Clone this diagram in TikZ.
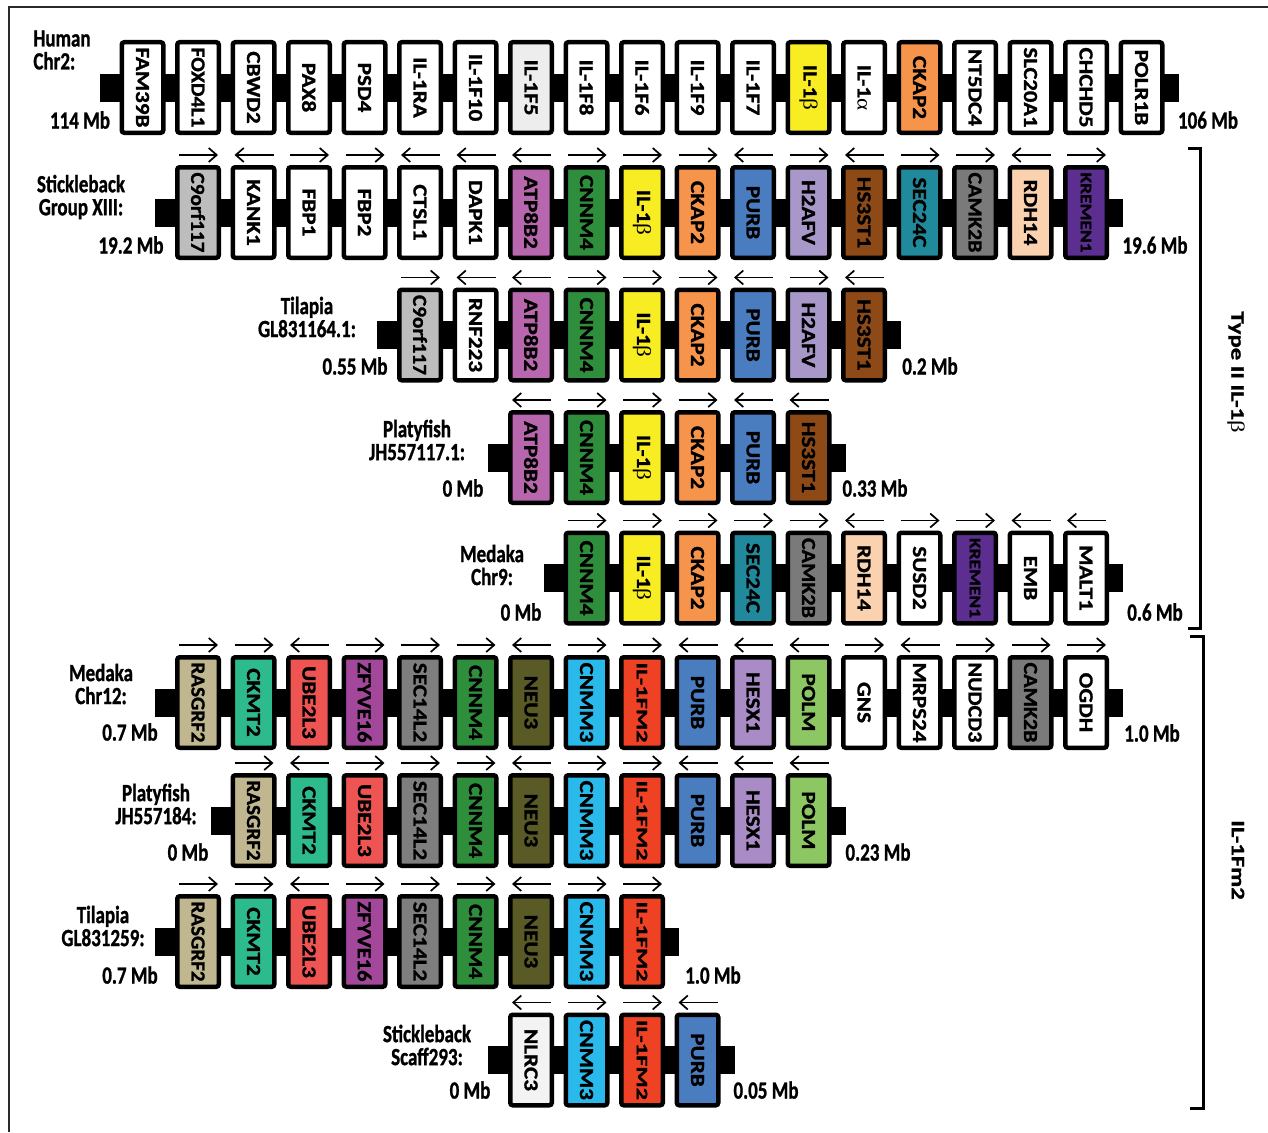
\documentclass[tikz,border=0pt]{standalone}
\usepackage{fontspec}
\usepackage{graphicx}
\setmainfont{Carlito}[BoldFont={* Bold}, BoldFeatures={FakeBold=1.2}]
\newfontfamily\grk{Liberation Serif}
\usetikzlibrary{arrows.meta,backgrounds}
\definecolor{cWhite}{HTML}{FFFFFF}
\definecolor{cLight}{HTML}{EDEDED}
\definecolor{cNlrc}{HTML}{F3F3F3}
\definecolor{cCgray}{HTML}{BDBDBD}
\definecolor{cAtp}{HTML}{B866AE}
\definecolor{cCnnm}{HTML}{2F8E3C}
\definecolor{cYel}{HTML}{F8EC22}
\definecolor{cOra}{HTML}{F7944B}
\definecolor{cPurb}{HTML}{4A7DC0}
\definecolor{cLav}{HTML}{A898C9}
\definecolor{cBrown}{HTML}{8E4A16}
\definecolor{cTeal}{HTML}{21899C}
\definecolor{cCamk}{HTML}{7A7A7A}
\definecolor{cPeach}{HTML}{FBD2B0}
\definecolor{cKrem}{HTML}{5B2E90}
\definecolor{cRas}{HTML}{C0B68F}
\definecolor{cCkmt}{HTML}{2DBB8E}
\definecolor{cUbe}{HTML}{EE5452}
\definecolor{cZfy}{HTML}{A2479A}
\definecolor{cSec}{HTML}{7E7E7E}
\definecolor{cNeu}{HTML}{595A26}
\definecolor{cCnmm}{HTML}{29B9EA}
\definecolor{cFm}{HTML}{EF4225}
\definecolor{cHesx}{HTML}{A98BC6}
\definecolor{cPolm}{HTML}{8DC763}
\definecolor{cFrame}{HTML}{2A2A2A}
\newsavebox\glbox
\newcommand\sx[1]{\scalebox{1}[1.3]{#1}}
\newcommand\glab[1]{\sbox\glbox{#1}%
  \ifdim\wd\glbox>69pt
    \rotatebox{-90}{\resizebox{80pt}{\height}{\usebox\glbox}}%
  \else
    \rotatebox{-90}{\scalebox{1.16}[1]{\usebox\glbox}}%
  \fi}
\newcommand\fitlab[1]{\sbox\glbox{#1}%
  \rotatebox{-90}{\resizebox{80pt}{\height}{\usebox\glbox}}}
\newcommand\gb{{\grk\mdseries β}}
\newcommand\ga{{\grk\mdseries α}}
\tikzset{
  genebox/.style={draw=black, line width=4.5pt, rounded corners=2.5pt,
    minimum width=41.5pt, minimum height=90.5pt, inner sep=0pt,
    font=\fontsize{20}{22}\selectfont\bfseries},
  smallg/.style={font=\fontsize{16}{18}\selectfont\bfseries},
  fwd/.style={-{Straight Barb[length=8pt,width=14pt]}},
  rev/.style={{Straight Barb[length=8pt,width=14pt]}-},
  dirarrow/.style={line width=1.7pt, black},
  lab/.style={align=center, inner sep=0pt, font=\fontsize{19}{23}\selectfont\bfseries},
  chrbar/.style={fill=black},
  brk/.style={line width=3pt, black},
}
% #1 row id, #2 col, #3 y, #4 fill, #5 label, #6 arrow style
\newcommand\gene[6]{%
  \node[genebox, fill=#4] (#1#2) at ({142.5+55.5*#2},#3) {\glab{#5}};
  \draw[dirarrow, #6] ([xshift=4pt,yshift=10pt]#1#2.north west) -- ([xshift=-3pt,yshift=10pt]#1#2.north east);
}
\newcommand\sgene[6]{%
  \node[genebox, smallg, fill=#4] (#1#2) at ({142.5+55.5*#2},#3) {\fitlab{#5}};
  \draw[dirarrow, #6] ([xshift=4pt,yshift=10pt]#1#2.north west) -- ([xshift=-3pt,yshift=10pt]#1#2.north east);
}
\newcommand\hgene[4]{%
  \node[genebox, fill=#3] (#1#2) at ({142.5+55.5*#2},87.5) {\glab{#4}};
}
\newcommand\chrom[2]{%
  \begin{scope}[on background layer]
    \fill[chrbar] ([xshift=-20pt,yshift=-14pt]#1.west) rectangle ([xshift=14pt,yshift=14pt]#2.east);
  \end{scope}
}
\begin{document}
\begin{tikzpicture}[x=1pt,y=-1pt]
\begin{scope}[on background layer]
\fill[white] (0,0) rectangle (1268,1132);
\end{scope}
\useasboundingbox (0,0) rectangle (1268,1132);
\draw[cFrame, line width=2pt] (9,1132) -- (9,7) -- (1268,7);

% ---- Row A: Human Chr2
\hgene{A}{0}{cWhite}{FAM39B}
\hgene{A}{1}{cWhite}{FOXD4L1}
\hgene{A}{2}{cWhite}{CBWD2}
\hgene{A}{3}{cWhite}{PAX8}
\hgene{A}{4}{cWhite}{PSD4}
\hgene{A}{5}{cWhite}{IL-1RA}
\hgene{A}{6}{cWhite}{IL-1F10}
\hgene{A}{7}{cLight}{IL-1F5}
\hgene{A}{8}{cWhite}{IL-1F8}
\hgene{A}{9}{cWhite}{IL-1F6}
\hgene{A}{10}{cWhite}{IL-1F9}
\hgene{A}{11}{cWhite}{IL-1F7}
\hgene{A}{12}{cYel}{IL-1\gb}
\hgene{A}{13}{cWhite}{IL-1\ga}
\hgene{A}{14}{cOra}{CKAP2}
\hgene{A}{15}{cWhite}{NT5DC4}
\hgene{A}{16}{cWhite}{SLC20A1}
\hgene{A}{17}{cWhite}{CHCHD5}
\hgene{A}{18}{cWhite}{POLR1B}
\chrom{A0}{A18}
\node[lab, align=left] (Alab) at (62,50) {\sx{Human}\\\sx{Chr2:}};
\node[lab] (Aleft) at (80,120) {\sx{114 Mb}};
\node[lab] (Aright) at (1208,120) {\sx{106 Mb}};

% ---- Row B: Stickleback Group XIII
\def\ry{212.5}
\gene{B}{1}{\ry}{cCgray}{C9orf117}{fwd}
\gene{B}{2}{\ry}{cWhite}{KANK1}{rev}
\gene{B}{3}{\ry}{cWhite}{FBP1}{fwd}
\gene{B}{4}{\ry}{cWhite}{FBP2}{fwd}
\gene{B}{5}{\ry}{cWhite}{CTSL1}{rev}
\gene{B}{6}{\ry}{cWhite}{DAPK1}{rev}
\gene{B}{7}{\ry}{cAtp}{ATP8B2}{rev}
\gene{B}{8}{\ry}{cCnnm}{CNNM4}{fwd}
\gene{B}{9}{\ry}{cYel}{IL-1\gb}{fwd}
\gene{B}{10}{\ry}{cOra}{CKAP2}{fwd}
\gene{B}{11}{\ry}{cPurb}{PURB}{rev}
\gene{B}{12}{\ry}{cLav}{H2AFV}{fwd}
\gene{B}{13}{\ry}{cBrown}{HS3ST1}{rev}
\gene{B}{14}{\ry}{cTeal}{SEC24C}{fwd}
\gene{B}{15}{\ry}{cCamk}{CAMK2B}{fwd}
\gene{B}{16}{\ry}{cPeach}{RDH14}{rev}
\sgene{B}{17}{\ry}{cKrem}{KREMEN1}{fwd}
\chrom{B1}{B17}
\node[lab] (Blab) at (81,197) {\sx{Stickleback}\\\sx{Group XIII:}};
\node[lab] (Bleft) at (131,245) {\sx{19.2 Mb}};
\node[lab] (Bright) at (1155,245) {\sx{19.6 Mb}};

% ---- Row C: Tilapia GL831164.1
\def\ry{335}
\gene{C}{5}{\ry}{cCgray}{C9orf117}{fwd}
\gene{C}{6}{\ry}{cWhite}{RNF223}{rev}
\gene{C}{7}{\ry}{cAtp}{ATP8B2}{rev}
\gene{C}{8}{\ry}{cCnnm}{CNNM4}{fwd}
\gene{C}{9}{\ry}{cYel}{IL-1\gb}{fwd}
\gene{C}{10}{\ry}{cOra}{CKAP2}{fwd}
\gene{C}{11}{\ry}{cPurb}{PURB}{rev}
\gene{C}{12}{\ry}{cLav}{H2AFV}{fwd}
\gene{C}{13}{\ry}{cBrown}{HS3ST1}{rev}
\chrom{C5}{C13}
\node[lab] (Clab) at (307,317) {\sx{Tilapia}\\\sx{GL831164.1:}};
\node[lab] (Cleft) at (355,366) {\sx{0.55 Mb}};
\node[lab] (Cright) at (930,366) {\sx{0.2 Mb}};

% ---- Row D: Platyfish JH557117.1
\def\ry{457.5}
\gene{D}{7}{\ry}{cAtp}{ATP8B2}{rev}
\gene{D}{8}{\ry}{cCnnm}{CNNM4}{fwd}
\gene{D}{9}{\ry}{cYel}{IL-1\gb}{fwd}
\gene{D}{10}{\ry}{cOra}{CKAP2}{fwd}
\gene{D}{11}{\ry}{cPurb}{PURB}{rev}
\gene{D}{12}{\ry}{cBrown}{HS3ST1}{rev}
\chrom{D7}{D12}
\node[lab] (Dlab) at (417,440) {\sx{Platyfish}\\\sx{JH557117.1:}};
\node[lab] (Dleft) at (463,488) {\sx{0 Mb}};
\node[lab] (Dright) at (875,488) {\sx{0.33 Mb}};

% ---- Row E: Medaka Chr9
\def\ry{578}
\gene{E}{8}{\ry}{cCnnm}{CNNM4}{fwd}
\gene{E}{9}{\ry}{cYel}{IL-1\gb}{fwd}
\gene{E}{10}{\ry}{cOra}{CKAP2}{fwd}
\gene{E}{11}{\ry}{cTeal}{SEC24C}{fwd}
\gene{E}{12}{\ry}{cCamk}{CAMK2B}{fwd}
\gene{E}{13}{\ry}{cPeach}{RDH14}{rev}
\gene{E}{14}{\ry}{cWhite}{SUSD2}{fwd}
\sgene{E}{15}{\ry}{cKrem}{KREMEN1}{fwd}
\gene{E}{16}{\ry}{cWhite}{EMB}{rev}
\gene{E}{17}{\ry}{cWhite}{MALT1}{rev}
\chrom{E8}{E17}
\node[lab] (Elab) at (492,565) {\sx{Medaka}\\\sx{Chr9:}};
\node[lab] (Eleft) at (521,612) {\sx{0 Mb}};
\node[lab] (Eright) at (1155,612) {\sx{0.6 Mb}};

% ---- Row F: Medaka Chr12
\def\ry{702.5}
\gene{F}{1}{\ry}{cRas}{RASGRF2}{fwd}
\gene{F}{2}{\ry}{cCkmt}{CKMT2}{fwd}
\gene{F}{3}{\ry}{cUbe}{UBE2L3}{rev}
\gene{F}{4}{\ry}{cZfy}{ZFYVE16}{fwd}
\gene{F}{5}{\ry}{cSec}{SEC14L2}{fwd}
\gene{F}{6}{\ry}{cCnnm}{CNNM4}{fwd}
\gene{F}{7}{\ry}{cNeu}{NEU3}{rev}
\gene{F}{8}{\ry}{cCnmm}{CNMM3}{fwd}
\sgene{F}{9}{\ry}{cFm}{IL-1FM2}{fwd}
\gene{F}{10}{\ry}{cPurb}{PURB}{rev}
\gene{F}{11}{\ry}{cHesx}{HESX1}{rev}
\gene{F}{12}{\ry}{cPolm}{POLM}{rev}
\gene{F}{13}{\ry}{cWhite}{GNS}{fwd}
\gene{F}{14}{\ry}{cWhite}{MRPS24}{rev}
\gene{F}{15}{\ry}{cWhite}{NUDCD3}{fwd}
\gene{F}{16}{\ry}{cCamk}{CAMK2B}{fwd}
\gene{F}{17}{\ry}{cWhite}{OGDH}{fwd}
\chrom{F1}{F17}
\node[lab] (Flab) at (101,684) {\sx{Medaka}\\\sx{Chr12:}};
\node[lab] (Fleft) at (130,732) {\sx{0.7 Mb}};
\node[lab] (Fright) at (1152,733) {\sx{1.0 Mb}};

% ---- Row G: Platyfish JH557184
\def\ry{820.5}
\gene{G}{2}{\ry}{cRas}{RASGRF2}{fwd}
\gene{G}{3}{\ry}{cCkmt}{CKMT2}{rev}
\gene{G}{4}{\ry}{cUbe}{UBE2L3}{fwd}
\gene{G}{5}{\ry}{cSec}{SEC14L2}{fwd}
\gene{G}{6}{\ry}{cCnnm}{CNNM4}{fwd}
\gene{G}{7}{\ry}{cNeu}{NEU3}{rev}
\gene{G}{8}{\ry}{cCnmm}{CNMM3}{fwd}
\sgene{G}{9}{\ry}{cFm}{IL-1FM2}{fwd}
\gene{G}{10}{\ry}{cPurb}{PURB}{rev}
\gene{G}{11}{\ry}{cHesx}{HESX1}{rev}
\gene{G}{12}{\ry}{cPolm}{POLM}{rev}
\chrom{G2}{G12}
\node[lab] (Glab) at (156,804) {\sx{Platyfish}\\\sx{JH557184:}};
\node[lab] (Gleft) at (188,852) {\sx{0 Mb}};
\node[lab] (Gright) at (878,852) {\sx{0.23 Mb}};

% ---- Row H: Tilapia GL831259
\def\ry{941.5}
\gene{H}{1}{\ry}{cRas}{RASGRF2}{fwd}
\gene{H}{2}{\ry}{cCkmt}{CKMT2}{fwd}
\gene{H}{3}{\ry}{cUbe}{UBE2L3}{rev}
\gene{H}{4}{\ry}{cZfy}{ZFYVE16}{fwd}
\gene{H}{5}{\ry}{cSec}{SEC14L2}{fwd}
\gene{H}{6}{\ry}{cCnnm}{CNNM4}{fwd}
\gene{H}{7}{\ry}{cNeu}{NEU3}{rev}
\gene{H}{8}{\ry}{cCnmm}{CNMM3}{fwd}
\sgene{H}{9}{\ry}{cFm}{IL-1FM2}{fwd}
\chrom{H1}{H9}
\node[lab] (Hlab) at (103,926) {\sx{Tilapia}\\\sx{GL831259:}};
\node[lab] (Hleft) at (130,975) {\sx{0.7 Mb}};
\node[lab] (Hright) at (713,975) {\sx{1.0 Mb}};

% ---- Row I: Stickleback Scaff293
\def\ry{1060}
\gene{I}{7}{\ry}{cNlrc}{NLRC3}{rev}
\gene{I}{8}{\ry}{cCnmm}{CNMM3}{fwd}
\sgene{I}{9}{\ry}{cFm}{IL-1FM2}{fwd}
\gene{I}{10}{\ry}{cPurb}{PURB}{rev}
\chrom{I7}{I10}
\node[lab] (Ilab) at (427,1045) {\sx{Stickleback}\\\sx{Scaff293:}};
\node[lab] (Ileft) at (470,1090) {\sx{0 Mb}};
\node[lab] (Iright) at (766,1090) {\sx{0.05 Mb}};

% ---- Brackets
\draw[brk] (1188,148) -- (1200,148) -- (1200,628) -- (1188,628);
\node[lab, rotate=-90] (t2) at (1236,372) {\scalebox{1.3}[1]{Type II IL-1\gb}};
\draw[brk] (1190,636) -- (1203,636) -- (1203,1108) -- (1190,1108);
\node[lab, rotate=-90] (fm2) at (1238,860) {\scalebox{1.3}[1]{IL-1Fm2}};
\end{tikzpicture}
\end{document}
